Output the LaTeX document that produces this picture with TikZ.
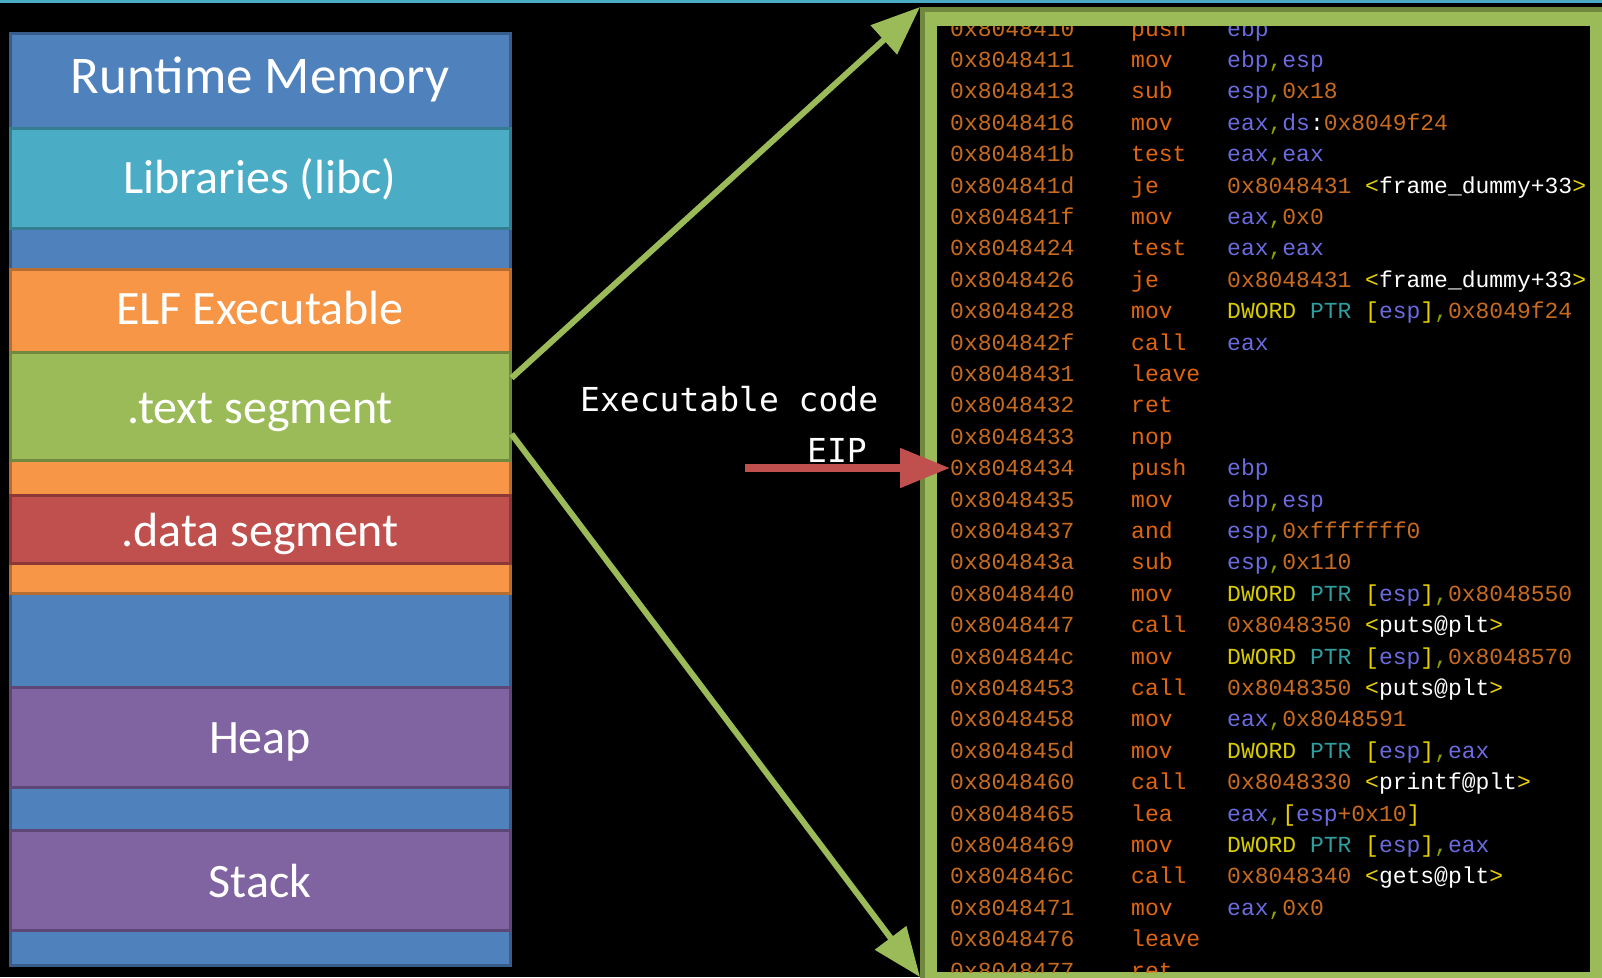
\documentclass[tikz,border=0pt]{standalone}
\usepackage{fontspec}
\usetikzlibrary{arrows.meta}
\newfontfamily\boxfont{Carlito}
\newfontfamily\asmfont{Liberation Mono}
\newfontfamily\labfont{DejaVu Sans Mono}

\definecolor{memblue}{HTML}{4F81BD}   \definecolor{memblueline}{HTML}{385D8A}
\definecolor{libteal}{HTML}{4BACC6}   \definecolor{libtealline}{HTML}{357D91}
\definecolor{elforange}{HTML}{F79646} \definecolor{elforangeline}{HTML}{B66D31}
\definecolor{txtgreen}{HTML}{9BBB59}  \definecolor{txtgreenline}{HTML}{71893F}
\definecolor{datared}{HTML}{C0504D}   \definecolor{dataredline}{HTML}{8C3836}
\definecolor{heappurple}{HTML}{8064A2} \definecolor{heappurpleline}{HTML}{5C4776}
\definecolor{asmaddr}{HTML}{C86B1E}
\definecolor{asmmn}{HTML}{E0650F}
\definecolor{asmreg}{HTML}{6B6BDF}
\definecolor{asmbrk}{HTML}{E8D000}
\definecolor{asmdw}{HTML}{D8CC00}
\definecolor{asmptr}{HTML}{2E9E9E}
\definecolor{asmcom}{HTML}{8AA000}

% operand colouring
\newcommand\areg[1]{\textcolor{asmreg}{#1}}
\newcommand\anum[1]{\textcolor{asmaddr}{#1}}
\newcommand\acom{\textcolor{asmcom}{,}}
\newcommand\asym[1]{\textcolor{asmbrk}{<}\textcolor{white}{#1}\textcolor{asmbrk}{>}}
\newcommand\adword{\textcolor{asmdw}{DWORD} \textcolor{asmptr}{PTR} \textcolor{asmbrk}{[}\areg{esp}\textcolor{asmbrk}{]}\acom}

\begin{document}
\begin{tikzpicture}[x=1pt, y=-1pt,
    seg/.style={draw, line width=3pt, minimum width=500pt, inner sep=0pt},
    seglabel/.style={anchor=base, text=white, inner sep=0pt, font=\boxfont\fontsize{48}{58}\selectfont},
    asm/.style={anchor=base west, inner sep=0pt, font=\asmfont\fontsize{23}{28}\selectfont},
    lab/.style={anchor=base west, inner sep=0pt, text=white, font=\labfont\fontsize{33}{40}\selectfont},
    segarrow/.style={txtgreen, line width=6pt, -{Triangle[length=49pt,width=38pt]}},
    eiparrow/.style={datared, line width=8pt, -{Triangle[length=50pt,width=38pt]}}]
  \useasboundingbox (0,0) rectangle (1602,977);
  \fill[black] (0,0) rectangle (1602,977);
  \fill[libteal] (0,0) rectangle (1602,3);

  % memory layout
  \node[seg, fill=memblue, draw=memblueline, minimum height=932pt] (mem) at (260,499) {};
  \node[seglabel, font=\boxfont\fontsize{53}{64}\selectfont] (memlab) at (260,93) {Runtime Memory};
  \node[seg, fill=libteal, draw=libtealline, minimum height=100pt] (libs) at (260,178) {};
  \node[seglabel] (libslab) at (260,193) {Libraries (libc)};
  \node[seg, fill=elforange, draw=elforangeline, minimum height=324pt] (elf) at (260,431) {};
  \node[seglabel] (elflab) at (260,324) {ELF Executable};
  \node[seg, fill=txtgreen, draw=txtgreenline, minimum height=108pt] (text) at (260,406) {};
  \node[seglabel] (textlab) at (260,423) {.text segment};
  \node[seg, fill=datared, draw=dataredline, minimum height=68pt] (data) at (260,529) {};
  \node[seglabel] (datalab) at (260,546) {.data segment};
  \node[seg, fill=heappurple, draw=heappurpleline, minimum height=100pt] (heap) at (260,737) {};
  \node[seglabel] (heaplab) at (260,753) {Heap};
  \node[seg, fill=heappurple, draw=heappurpleline, minimum height=100pt] (stack) at (260,880) {};
  \node[seglabel] (stacklab) at (260,897) {Stack};

  % disassembly window
  \node[draw=txtgreenline, fill=txtgreen, line width=5pt, anchor=north west,
        minimum width=720pt, minimum height=1000pt] (frame) at (920,7) {};
  \fill[black] (937,26) rectangle (1590,972);
  \begin{scope}
    \clip (937,26) rectangle (1590,972);
    \foreach \ad/\mn/\op [count=\i from 0] in {
        0x8048410/push/\areg{ebp},
        0x8048411/mov/\areg{ebp}\acom\areg{esp},
        0x8048413/sub/\areg{esp}\acom\anum{0x18},
        0x8048416/mov/\areg{eax}\acom\areg{ds}\textcolor{white}{:}\anum{0x8049f24},
        0x804841b/test/\areg{eax}\acom\areg{eax},
        0x804841d/je/\anum{0x8048431} \asym{frame\_dummy+33},
        0x804841f/mov/\areg{eax}\acom\anum{0x0},
        0x8048424/test/\areg{eax}\acom\areg{eax},
        0x8048426/je/\anum{0x8048431} \asym{frame\_dummy+33},
        0x8048428/mov/\adword\anum{0x8049f24},
        0x804842f/call/\areg{eax},
        0x8048431/leave/{},
        0x8048432/ret/{},
        0x8048433/nop/{},
        0x8048434/push/\areg{ebp},
        0x8048435/mov/\areg{ebp}\acom\areg{esp},
        0x8048437/and/\areg{esp}\acom\anum{0xfffffff0},
        0x804843a/sub/\areg{esp}\acom\anum{0x110},
        0x8048440/mov/\adword\anum{0x8048550},
        0x8048447/call/\anum{0x8048350} \asym{puts@plt},
        0x804844c/mov/\adword\anum{0x8048570},
        0x8048453/call/\anum{0x8048350} \asym{puts@plt},
        0x8048458/mov/\areg{eax}\acom\anum{0x8048591},
        0x804845d/mov/\adword\areg{eax},
        0x8048460/call/\anum{0x8048330} \asym{printf@plt},
        0x8048465/lea/\areg{eax}\acom\textcolor{asmbrk}{[}\areg{esp}\anum{+0x10}\textcolor{asmbrk}{]},
        0x8048469/mov/\adword\areg{eax},
        0x804846c/call/\anum{0x8048340} \asym{gets@plt},
        0x8048471/mov/\areg{eax}\acom\anum{0x0},
        0x8048476/leave/{},
        0x8048477/ret/{}} {
      \node[asm, text=asmaddr] (a\i) at (950,{36+31.4*\i}) {\ad};
      \node[asm, text=asmmn] (m\i) at (1131,{36+31.4*\i}) {\mn};
      \node[asm] (o\i) at (1227,{36+31.4*\i}) {\op};
    }
  \end{scope}

  % connectors
  \coordinate (lowtip) at (920,977);
  \draw[segarrow] ([yshift=28pt]text.east) -- (frame.north west);
  \draw[segarrow] ([yshift=-28pt]text.east) -- (lowtip);

  \node[lab] (exec) at (580,411) {Executable code};
  \node[lab] (eip) at (807,462) {EIP};
  \coordinate (eipstart) at (a14.west -| 745,0);
  \draw[eiparrow] (eipstart) -- (a14.west);
\end{tikzpicture}
\end{document}
